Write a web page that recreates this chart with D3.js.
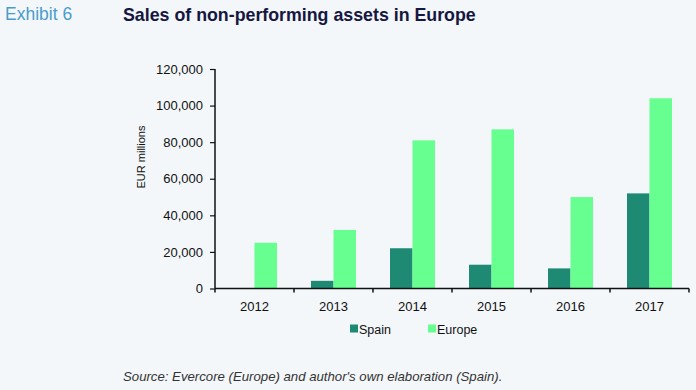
<!DOCTYPE html>
<html><head><meta charset="utf-8">
<script src="https://cdn.jsdelivr.net/npm/d3@7"></script>
<style>
html,body{margin:0;padding:0;background:#f3f7fa;}
svg{display:block;font-family:"Liberation Sans",Arial,sans-serif;}
</style></head>
<body>
<svg id="chart" width="696" height="390"></svg>
<script>
const years = ["2012","2013","2014","2015","2016","2017"];
const spain = [0, 4200, 22000, 13000, 11000, 52000];
const europe = [25000, 32000, 81000, 87000, 50000, 104000];
const seriesNames = ["Spain","Europe"];
const seriesColors = ["#1f8a74","#66ff90"];
const yTicks = [0,20000,40000,60000,80000,100000,120000];

(function(){
const svg = d3.select("#chart");
svg.append("rect").attr("width",696).attr("height",390).attr("fill","#f3f7fa");

const pLeft = 215, pRight = 689, pTop = 69, pBottom = 288.5;
const x = d3.scaleBand().domain(years).range([pLeft, pRight]).paddingInner(0).paddingOuter(0);
const x1 = d3.scaleBand().domain(seriesNames).range([x.bandwidth()/2 - 22.5, x.bandwidth()/2 + 22.5]);
const y = d3.scaleLinear().domain([0,120000]).range([pBottom, pTop]);

const data = [spain, europe];
const g = svg.append("g");
years.forEach((yr, i) => {
  seriesNames.forEach((s, j) => {
    const v = data[j][i];
    if (v <= 0) return;
    g.append("rect")
      .attr("x", x(yr) + x1(s))
      .attr("y", y(v))
      .attr("width", x1.bandwidth())
      .attr("height", y(0) - y(v))
      .attr("fill", seriesColors[j]);
  });
});

// y axis
const yAxis = d3.axisLeft(y).tickValues(yTicks).tickFormat(d3.format(",")).tickSize(5).tickPadding(7);
const ya = svg.append("g").attr("transform",`translate(${pLeft},0)`).call(yAxis);
ya.select(".domain").attr("stroke","#111").attr("stroke-width",1.5).attr("d",`M0,${pTop}V${pBottom}`);
ya.selectAll(".tick line").attr("stroke","#111").attr("stroke-width",1.2);
ya.selectAll(".tick text").attr("font-size",13).attr("fill","#111").attr("font-family","Liberation Sans, Arial, sans-serif");

// x axis
const xAxis = d3.axisBottom(x).tickSize(0).tickPadding(13);
const xa = svg.append("g").attr("transform",`translate(0,${pBottom})`).call(xAxis);
xa.select(".domain").attr("stroke","#111").attr("stroke-width",1.5).attr("d",`M${pLeft},0H${pRight}`);
xa.selectAll(".tick text").attr("font-size",13).attr("fill","#111").attr("font-family","Liberation Sans, Arial, sans-serif");
const bounds = years.map(yv => x(yv)).concat([pRight]);
xa.selectAll(".bt").data(bounds).enter().append("line")
  .attr("x1",d=>d).attr("x2",d=>d).attr("y1",0).attr("y2",4)
  .attr("stroke","#111").attr("stroke-width",1.5);

// y label
svg.append("text").attr("transform","translate(145,157) rotate(-90)")
  .attr("text-anchor","middle").attr("font-size",11).attr("fill","#111")
  .text("EUR  millions");

// titles
svg.append("text").attr("x",5).attr("y",20).attr("font-size",17.5).attr("fill","#4a9ccc").text("Exhibit 6");
svg.append("text").attr("x",123).attr("y",21).attr("font-size",17.8).attr("font-weight","bold").attr("fill","#16163f").text("Sales of non-performing assets in Europe");

// legend
const legX = [350, 428];
seriesNames.forEach((s,j)=>{
  svg.append("rect").attr("x",legX[j]).attr("y",324.5).attr("width",8).attr("height",8).attr("fill",seriesColors[j]);
  svg.append("text").attr("x",legX[j]+9).attr("y",333.5).attr("font-size",12.5).attr("fill","#111").text(s);
});

// source
svg.append("text").attr("x",123).attr("y",381).attr("font-size",13.2).attr("font-style","italic").attr("fill","#333")
  .text("Source: Evercore (Europe) and author's own elaboration (Spain).");
})();
</script>
</body></html>
